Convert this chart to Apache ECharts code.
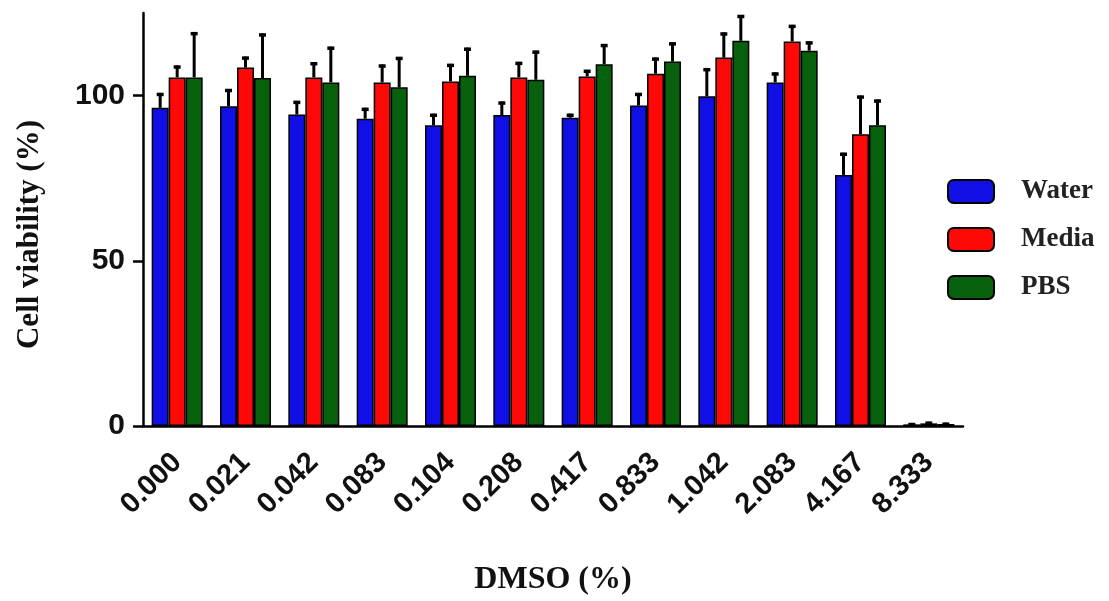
<!DOCTYPE html>
<html>
<head>
<meta charset="utf-8">
<script src="https://cdn.jsdelivr.net/npm/echarts@6/dist/echarts.min.js"></script>
<style>html,body{margin:0;padding:0;background:#fff}#c{width:1109px;height:601px}</style>
</head>
<body>
<div id="c"></div>
<script>
const categories = ['0.000','0.021','0.042','0.083','0.104','0.208','0.417','0.833','1.042','2.083','4.167','8.333'];
const seriesNames = ['Water','Media','PBS'];
const water    = [96.3, 96.8, 94.3, 93.0, 91.0, 94.1, 93.3, 97.0, 99.8, 104.0, 76.0, 0.5];
const waterErr = [4.5, 5.2, 4.1, 3.3, 3.5, 4.1, 1.2, 3.8, 8.5, 3.0, 6.7, 0.4];
const media    = [105.5, 108.5, 105.5, 104.0, 104.3, 105.5, 105.8, 106.6, 111.5, 116.4, 88.3, 0.8];
const mediaErr = [3.6, 3.3, 4.6, 5.4, 5.3, 4.7, 2.0, 4.9, 7.6, 5.0, 11.7, 0.5];
const pbs      = [105.5, 105.3, 104.0, 102.5, 106.0, 104.8, 109.5, 110.3, 116.6, 113.6, 91.0, 0.6];
const pbsErr   = [13.7, 13.5, 10.8, 9.2, 8.5, 8.8, 6.1, 5.8, 7.8, 2.8, 7.8, 0.4];
const yTicks = [0, 50, 100];

const colors = ['#1010e6', '#ff0808', '#07600c'];
const BAR_W = 17;
const values = [water, media, pbs];
const errs = [waterErr, mediaErr, pbsErr];

const chart = echarts.init(document.getElementById('c'), null, {renderer: 'canvas'});

const barSeries = seriesNames.map((n, k) => ({
  name: n, type: 'bar', data: values[k], barWidth: BAR_W, barGap: '0%',
  itemStyle: {color: colors[k], borderColor: '#000', borderWidth: 1.5},
  z: 2
}));

const errSeries = seriesNames.map((n, k) => ({
  name: n + ' err', type: 'custom', z: 3,
  data: values[k].map((v, i) => [i, v, errs[k][i]]),
  encode: {x: 0, y: 1},
  renderItem: function (params, api) {
    const i = api.value(0), v = api.value(1), e = api.value(2);
    const p0 = api.coord([i, v]);
    const p1 = api.coord([i, v + e]);
    const x = p0[0] + (k - 1) * BAR_W;
    return {
      type: 'group',
      children: [
        {type: 'line', shape: {x1: x, y1: p0[1], x2: x, y2: p1[1]}, style: {stroke: '#000', lineWidth: 3}},
        {type: 'line', shape: {x1: x - 3.5, y1: p1[1] + 1.5, x2: x + 3.5, y2: p1[1] + 1.5}, style: {stroke: '#000', lineWidth: 3.5}}
      ]
    };
  }
}));

chart.setOption({
  animation: false,
  backgroundColor: '#fff',
  grid: {left: 143, right: 146, top: 13, bottom: 173},
  legend: {
    data: seriesNames, orient: 'vertical', left: 947, top: 178, padding: 0,
    itemWidth: 46, itemHeight: 23, itemGap: 21, icon: 'roundRect',
    itemStyle: {borderColor: '#000', borderWidth: 2},
    textStyle: {fontFamily: 'Liberation Serif', fontWeight: 'bold', fontSize: 27, lineHeight: 23, color: '#222', padding: [0, 0, 0, 22]}
  },
  xAxis: {
    type: 'category', data: categories,
    name: 'DMSO (%)', nameLocation: 'middle', nameGap: 138,
    nameTextStyle: {fontFamily: 'Liberation Serif', fontWeight: 'bold', fontSize: 32, color: '#111'},
    axisLine: {lineStyle: {color: '#000', width: 2.5}},
    axisTick: {alignWithLabel: true, length: 10, lineStyle: {color: '#000', width: 2.5}},
    axisLabel: {rotate: 45, margin: 32, interval: 0, fontFamily: 'Liberation Sans', fontWeight: 'bold', fontSize: 29, color: '#111'}
  },
  yAxis: {
    type: 'value', min: 0, max: 125,
    name: 'Cell viability (%)', nameLocation: 'middle', nameGap: 98,
    nameTextStyle: {fontFamily: 'Liberation Serif', fontWeight: 'bold', fontSize: 31, color: '#111', padding: [0, 30, 0, 0]},
    splitLine: {show: false},
    axisLine: {show: true, lineStyle: {color: '#000', width: 2.5}},
    axisTick: {show: true, length: 10, lineStyle: {color: '#000', width: 2.5}, customValues: yTicks},
    axisLabel: {margin: 18, fontFamily: 'Liberation Sans', fontWeight: 'bold', fontSize: 30, color: '#111', customValues: yTicks}
  },
  series: barSeries.concat(errSeries)
});
</script>
</body>
</html>
